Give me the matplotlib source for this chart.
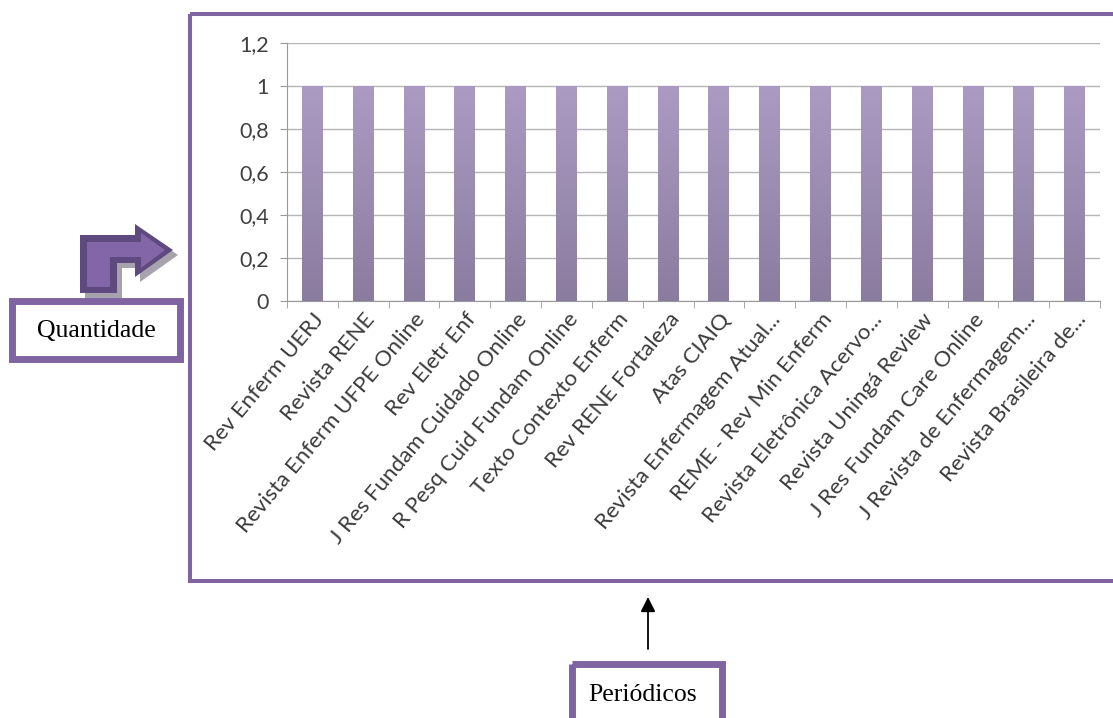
import numpy as np
import matplotlib.pyplot as plt
from matplotlib.patches import Rectangle, Polygon
from matplotlib.colors import LinearSegmentedColormap

# data
periodicos = [
    "Rev Enferm UERJ",
    "Revista RENE",
    "Revista Enferm UFPE Online",
    "Rev Eletr Enf",
    "J Res Fundam Cuidado Online",
    "R Pesq Cuid Fundam Online",
    "Texto Contexto Enferm",
    "Rev RENE Fortaleza",
    "Atas CIAIQ",
    "Revista Enfermagem Atual...",
    "REME - Rev Min Enferm",
    "Revista Eletrônica Acervo...",
    "Revista Uningá Review",
    "J Res Fundam Care Online",
    "J Revista de Enfermagem...",
    "Revista Brasileira de...",
]
quantidade = [1, 1, 1, 1, 1, 1, 1, 1, 1, 1, 1, 1, 1, 1, 1, 1]
y_ticks = [0, 0.2, 0.4, 0.6, 0.8, 1, 1.2]
y_tick_labels = ["0", "0,2", "0,4", "0,6", "0,8", "1", "1,2"]

W, H = 1113, 718
purple = "#8064a2"
label_font = ["Lato", "DejaVu Sans"]

fig = plt.figure(figsize=(W / 100, H / 100), dpi=100)

# overlay in pixel coords for the frame, boxes and arrows
ov = fig.add_axes([0, 0, 1, 1], zorder=0)
ov.set_xlim(0, W)
ov.set_ylim(H, 0)
ov.axis("off")

# chart frame (right side runs off the picture)
ov.add_patch(Rectangle((190, 14), 960, 567, fill=False, lw=2.9, ec=purple))

# bent arrow pointing at the chart
outer = [(80, 293), (80, 235), (135, 235), (135, 224), (173, 250),
         (135, 277), (135, 263), (117, 263), (117, 293)]
shadow = [(x + 5, y + 5) for x, y in outer]
inner = [(87, 287), (87, 242), (141, 242), (141, 233), (165, 250),
         (141, 268), (141, 257), (110, 257), (110, 287)]
ov.add_patch(Polygon(shadow, closed=True, fc="#a7a2ad", ec="none"))
ov.add_patch(Polygon(outer, closed=True, fc="#5e4a7e", ec="none"))
ov.add_patch(Polygon(inner, closed=True, fc="#8366a8", ec="none"))

# "Quantidade" box
ov.add_patch(Rectangle((11.5, 300.5), 168, 58, fill=False, lw=5, ec=purple))
ov.text(96, 331, "Quantidade", ha="center", va="center",
        family="Liberation Serif", fontsize=18.5, color="black")

# "Periódicos" box with the up arrow
ov.add_patch(Rectangle((571.5, 663.5), 150, 80, fill=False, lw=5, ec=purple))
ov.text(643, 695, "Periódicos", ha="center", va="center",
        family="Liberation Serif", fontsize=18.5, color="black")
ov.annotate("", xy=(648, 597), xytext=(648, 649),
            arrowprops=dict(arrowstyle="-|>", color="black", lw=1.3,
                            mutation_scale=22, shrinkA=0, shrinkB=0))

# the bar chart itself
ax = fig.add_axes([287 / W, 1 - 301 / H, 813 / W, 258 / H], zorder=1)
ax.set_facecolor("none")
x = np.arange(len(periodicos))
bars = ax.bar(x, quantidade, width=0.41, color="none", zorder=3)

cmap = LinearSegmentedColormap.from_list("bar", ["#8a7c9f", "#ab9bc3"])
grad = np.linspace(0, 1, 256).reshape(-1, 1)
for b in bars:
    x0, y0 = b.get_x(), b.get_y()
    img = ax.imshow(grad, cmap=cmap, origin="lower", aspect="auto",
                    extent=(x0, x0 + b.get_width(), y0, y0 + b.get_height()),
                    zorder=3)
    img.set_clip_path(b)

ax.set_xlim(-0.5, len(periodicos) - 0.5)
ax.set_ylim(0, 1.2)
ax.set_yticks(y_ticks)
ax.set_yticklabels(y_tick_labels, family=label_font, fontsize=15.5, color="#404040")
ax.set_xticks(x)
ax.set_xticklabels(periodicos, rotation=50, ha="right", va="top",
                   rotation_mode="anchor", family=label_font,
                   fontsize=16, color="#3a3a3a")
ax.set_xticks(np.arange(len(periodicos) + 1) - 0.5, minor=True)
ax.tick_params(axis="x", which="major", length=0, pad=6)
ax.tick_params(axis="x", which="minor", length=5, color="#999999")
ax.tick_params(axis="y", length=5, color="#999999", pad=8)

ax.grid(axis="y", color="#b5b5b5", lw=1)
ax.set_axisbelow(True)
for side in ["top", "right"]:
    ax.spines[side].set_visible(False)
ax.spines["left"].set_color("#999999")
ax.spines["bottom"].set_color("#999999")
ax.set_ylim(0, 1.2)

fig.savefig("out.png", dpi=100)
